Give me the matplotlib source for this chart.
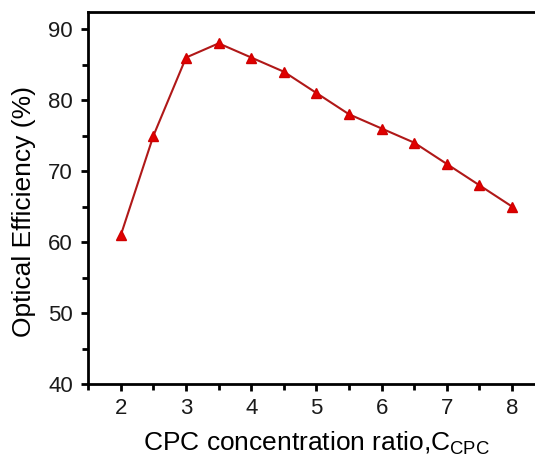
import matplotlib

matplotlib.use("Agg")
import matplotlib.pyplot as plt
from matplotlib.ticker import MultipleLocator

# data
ratio = [2, 2.5, 3, 3.5, 4, 4.5, 5, 5.5, 6, 6.5, 7, 7.5, 8]
efficiency = [61, 75, 86, 88, 86, 84, 81, 78, 76, 74, 71, 68, 65]

plt.rcParams.update({
    "font.family": ["Liberation Sans", "DejaVu Sans"],
    "mathtext.fontset": "custom",
    "mathtext.rm": "Liberation Sans",
    "font.size": 16,
    "text.color": "#1a1a1a",
    "xtick.labelcolor": "#1a1a1a",
    "ytick.labelcolor": "#1a1a1a",
})

fig = plt.figure(figsize=(5.35, 4.66), dpi=100)
# right spine falls outside the picture, as in the original crop
ax = fig.add_axes([0.165, 0.176, 0.853, 0.798])

ax.plot(ratio, efficiency, color="#b01818", linewidth=1.5,
        marker="^", markersize=7.5, markerfacecolor="#e00000",
        markeredgecolor="#d00000")

ax.set_xlim(1.5, 8.5)
ax.set_ylim(40, 92.4)
ax.xaxis.set_major_locator(MultipleLocator(1))
ax.xaxis.set_minor_locator(MultipleLocator(0.5))
ax.yaxis.set_major_locator(MultipleLocator(10))
ax.yaxis.set_minor_locator(MultipleLocator(5))
ax.tick_params(which="major", direction="out", length=5, width=2,
               labelsize=16)
ax.tick_params(axis="x", which="major", pad=5)
ax.tick_params(axis="y", which="major", pad=6)
ax.tick_params(which="minor", direction="out", length=4, width=2)

for side in ax.spines.values():
    side.set_linewidth(2)

ax.set_xlabel(r"CPC concentration ratio,C$_{\mathrm{CPC}}$", fontsize=19,
              labelpad=8)
ax.set_ylabel("Optical Efficiency (%)", fontsize=19)
ax.yaxis.set_label_coords(-0.115, 0.465)

fig.savefig("out.png", dpi=100)
